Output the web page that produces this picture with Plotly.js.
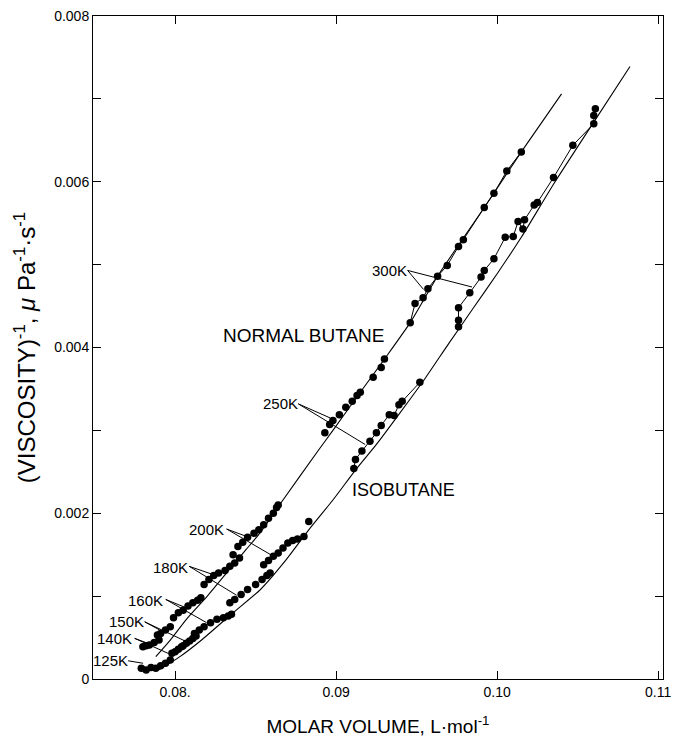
<!DOCTYPE html>
<html>
<head>
<meta charset="utf-8">
<script src="https://cdn.plot.ly/plotly-3.0.1.min.js"></script>
<style>html,body{margin:0;padding:0;background:#fff;}#chart{width:674px;height:737px;}</style>
</head>
<body>
<div id="chart"></div>
<script>
// ---- Data ----
// Smooth curves
const nbCurveX = [0.0788,0.0797,0.0807,0.0820,0.0832,0.0844,0.0853,0.0867,0.0889,0.0898,0.0915,0.0930,0.0946,0.0963,0.0992,0.1015,0.1040];
const nbCurveY = [0.00027,0.00047,0.00072,0.00100,0.00128,0.00156,0.00177,0.00216,0.00276,0.00300,0.00346,0.00386,0.00430,0.00486,0.00569,0.00636,0.00706];
const ibCurveX = [0.0790,0.0803,0.0817,0.0836,0.0853,0.0869,0.0883,0.0898,0.0912,0.0925,0.0940,0.0955,0.0970,0.0985,0.1000,0.1015,0.1035,0.1060,0.10825];
const ibCurveY = [0.00011,0.00027,0.00048,0.00080,0.00108,0.00144,0.00180,0.00216,0.00252,0.00283,0.00322,0.00362,0.00405,0.00447,0.00489,0.00533,0.00597,0.00672,0.00739];

// Normal butane measured points by isotherm
const nb140X = [0.0780,0.0782,0.0784,0.0787,0.0790];
const nb140Y = [0.00039,0.00040,0.00041,0.00044,0.00047];
const nb150X = [0.0789,0.0791,0.0794,0.0797];
const nb150Y = [0.00053,0.00055,0.00059,0.00063];
const nb160X = [0.0799,0.0802,0.0805,0.0808,0.0811,0.0814,0.0816];
const nb160Y = [0.00074,0.00080,0.00083,0.00088,0.00092,0.00095,0.00098];
const nb180X = [0.0818,0.0821,0.0824,0.0827,0.0831,0.0834,0.0837,0.0840];
const nb180Y = [0.00114,0.00120,0.00125,0.00128,0.00131,0.00136,0.00140,0.00146];
const nb200X = [0.0836,0.0839,0.0842,0.0845,0.0849,0.0852,0.0855,0.0858,0.0861,0.0863,0.0864];
const nb200Y = [0.00150,0.00160,0.00165,0.00171,0.00176,0.00180,0.00186,0.00194,0.00200,0.00207,0.00210];
const nb250X = [0.0893,0.0896,0.0898,0.0902,0.0906,0.0910,0.0913,0.0915,0.0923,0.0928,0.0930];
const nb250Y = [0.00297,0.00307,0.00312,0.00319,0.00328,0.00335,0.00342,0.00346,0.00364,0.00376,0.00386];
const nb300X = [0.0946,0.0949,0.0954,0.0957,0.0963,0.0969,0.0976,0.0979,0.0992,0.0998,0.1006,0.1015];
const nb300Y = [0.00430,0.00453,0.00460,0.00471,0.00486,0.00499,0.00522,0.00530,0.00569,0.00586,0.00613,0.00636];

// Isobutane measured points by isotherm
const ib125X = [0.0779,0.0782,0.0785,0.0788,0.0791,0.0794,0.0797];
const ib125Y = [0.00013,0.00011,0.00014,0.00013,0.00016,0.00019,0.00023];
const ib140X = [0.0798,0.0800,0.0802,0.0804];
const ib140Y = [0.00031,0.00033,0.00036,0.00039];
const ib150X = [0.0805,0.0807,0.0809,0.0811,0.0813];
const ib150Y = [0.00040,0.00043,0.00046,0.00049,0.00052];
const ib160X = [0.0812,0.0815,0.0818,0.0822,0.0826,0.0830,0.0833,0.0835];
const ib160Y = [0.00055,0.00059,0.00063,0.00068,0.00072,0.00074,0.00076,0.00078];
const ib180X = [0.0834,0.0837,0.0841,0.0845,0.0850,0.0854,0.0857,0.0859];
const ib180Y = [0.00092,0.00096,0.00102,0.00108,0.00114,0.00120,0.00125,0.00128];
const ib200X = [0.0855,0.0858,0.0861,0.0864,0.0867,0.0870,0.0873,0.0876,0.0880,0.0883];
const ib200Y = [0.00138,0.00143,0.00148,0.00152,0.00158,0.00164,0.00167,0.00169,0.00172,0.00190];
const ib250X = [0.0911,0.0912,0.0916,0.0921,0.0925,0.0928,0.0933,0.0936,0.0939,0.0941,0.0952];
const ib250Y = [0.00254,0.00265,0.00275,0.00287,0.00297,0.00306,0.00319,0.00318,0.00331,0.00335,0.00358];
const ib300X = [0.0976,0.0976,0.0976,0.0983,0.0990,0.0992,0.0998,0.1005,0.1010,0.1013,0.1016,0.1017,0.1023,0.1025,0.1035,0.1047,0.1060,0.1060,0.1061];
const ib300Y = [0.00425,0.00433,0.00448,0.00466,0.00485,0.00493,0.00507,0.00533,0.00534,0.00552,0.00543,0.00554,0.00572,0.00575,0.00605,0.00644,0.00670,0.00680,0.00688];

// Axis ticks
const xTickVals = [0.08,0.09,0.10,0.11];
const xTickText = ['0.08.','0.09','0.10','0.11'];
const yTickVals = [0,0.002,0.004,0.006,0.008];
const yTickText = ['0','0.002','0.004','0.006','0.008'];

// Isotherm labels
const isoLabels = ['300K','250K','200K','180K','160K','150K','140K','125K'];
const labelX   = [0.09330,0.08652,0.08197,0.07973,0.07818,0.07695,0.07625,0.07600];
const labelY   = [0.00493,0.00333,0.00181,0.00135,0.00095,0.00069,0.00049,0.00022];
const startX   = [0.09444,0.08765,0.08320,0.08087,0.07942,0.07811,0.07749,0.07708];
const startY   = [0.00493,0.00332,0.00181,0.00136,0.00096,0.00069,0.00049,0.00022];
const nbEndX   = [0.09543,0.08963,0.08444,0.08236,0.08067,0.07905,0.07832,null];
const nbEndY   = [0.00470,0.00315,0.00172,0.00126,0.00086,0.00059,0.00043,null];
const ibEndX   = [0.09844,0.09180,0.08620,0.08382,0.08195,0.08071,0.07956,0.07801];
const ibEndY   = [0.00473,0.00283,0.00147,0.00101,0.00068,0.00045,0.00031,0.00019];

// ---- Traces ----
const FONT = '"Liberation Sans", Arial, Helvetica, sans-serif';
const traces = [];
function curve(x, y) {
  traces.push({x:x, y:y, mode:'lines', type:'scatter', line:{color:'#000', width:1.1, shape:'spline', smoothing:0.6}, hoverinfo:'skip', showlegend:false});
}
function pts(x, y, withLine) {
  traces.push({x:x, y:y, mode: withLine ? 'lines+markers' : 'markers', type:'scatter',
    marker:{color:'#000', size:7.5, symbol:'circle'}, line:{color:'#000', width:1}, showlegend:false});
}
curve(nbCurveX, nbCurveY);
curve(ibCurveX, ibCurveY);
pts(nb140X, nb140Y); pts(nb150X, nb150Y); pts(nb160X, nb160Y); pts(nb180X, nb180Y);
pts(nb200X, nb200Y); pts(nb250X, nb250Y); pts(nb300X, nb300Y, true);
pts(ib125X, ib125Y); pts(ib140X, ib140Y); pts(ib150X, ib150Y); pts(ib160X, ib160Y);
pts(ib180X, ib180Y); pts(ib200X, ib200Y); pts(ib250X, ib250Y, true); pts(ib300X, ib300Y, true);

// ---- Labels and leader lines ----
const annotations = [];
const shapes = [];
isoLabels.forEach((t, i) => {
  annotations.push({x:labelX[i], y:labelY[i], xref:'x', yref:'y', text:t, showarrow:false,
    font:{family:FONT, size:15, color:'#000'}, xanchor:'center', yanchor:'middle'});
  if (nbEndX[i] !== null) {
    shapes.push({type:'line', xref:'x', yref:'y', x0:startX[i], y0:startY[i], x1:nbEndX[i], y1:nbEndY[i], line:{color:'#000', width:1}});
  }
  shapes.push({type:'line', xref:'x', yref:'y', x0:startX[i], y0:startY[i], x1:ibEndX[i], y1:ibEndY[i], line:{color:'#000', width:1}});
});
annotations.push({x:0.08800, y:0.00415, xref:'x', yref:'y', text:'NORMAL BUTANE', showarrow:false,
  font:{family:FONT, size:19, color:'#000'}, xanchor:'center', yanchor:'middle'});
annotations.push({x:0.0942, y:0.00228, xref:'x', yref:'y', text:'ISOBUTANE', showarrow:false,
  font:{family:FONT, size:18, color:'#000'}, xanchor:'center', yanchor:'middle'});

const layout = {
  width:674, height:737,
  margin:{l:93, r:11, t:16, b:58},
  paper_bgcolor:'#fff', plot_bgcolor:'#fff',
  font:{family:FONT, color:'#000'},
  showlegend:false,
  xaxis:{
    range:[0.0749,0.1103], showgrid:false, zeroline:false,
    showline:true, linecolor:'#000', linewidth:1, mirror:'ticks',
    ticks:'inside', ticklen:8, tickcolor:'#000', tickwidth:1,
    tickmode:'array', tickvals:xTickVals, ticktext:xTickText,
    tickfont:{family:FONT, size:14, color:'#000'},
    title:{text:'MOLAR VOLUME, L·mol<sup>-1</sup>', font:{family:FONT, size:19, color:'#000'}, standoff:20}
  },
  yaxis:{
    range:[0,0.008], showgrid:false, zeroline:false,
    showline:true, linecolor:'#000', linewidth:1, mirror:'ticks',
    ticks:'inside', ticklen:8, tickcolor:'#000', tickwidth:1,
    tickmode:'array', tickvals:yTickVals, ticktext:yTickText,
    minor:{ticks:'inside', ticklen:8, tickcolor:'#000', tickwidth:1, dtick:0.001, showgrid:false},
    tickfont:{family:FONT, size:14, color:'#000'},
    title:{text:'(VISCOSITY)<sup>-1</sup>, <i>μ</i> Pa<sup>-1</sup>·s<sup>-1</sup>', font:{family:FONT, size:24, color:'#000'}, standoff:11}
  },
  annotations:annotations,
  shapes:shapes
};
Plotly.newPlot('chart', traces, layout, {staticPlot:true, displayModeBar:false});
</script>
</body>
</html>
